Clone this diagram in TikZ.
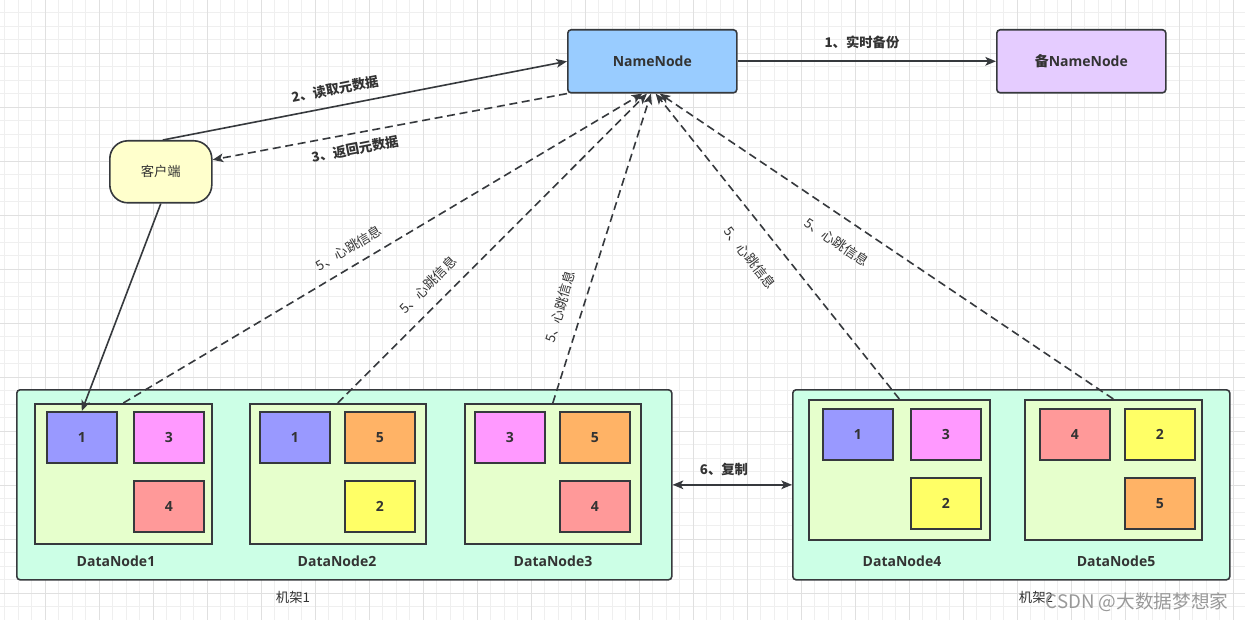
\documentclass[tikz,border=0pt]{standalone}
\usepackage{fontspec}
\setmainfont{Open Sans}
\newfontfamily\cjk{Noto Sans CJK SC}
\usetikzlibrary{arrows.meta}
\definecolor{ln}{HTML}{36393D}
\definecolor{tx}{HTML}{333333}
\definecolor{nnfill}{HTML}{99CCFF}
\definecolor{sbfill}{HTML}{E5CCFF}
\definecolor{clfill}{HTML}{FFFFCC}
\definecolor{rkfill}{HTML}{CCFFE6}
\definecolor{dnfill}{HTML}{E6FFCC}
\definecolor{cA}{HTML}{9999FF}
\definecolor{cB}{HTML}{FFFF66}
\definecolor{cC}{HTML}{FF99FF}
\definecolor{cD}{HTML}{FF9999}
\definecolor{cE}{HTML}{FFB366}
\definecolor{gridminor}{HTML}{EFEFEF}
\definecolor{gridmajor}{HTML}{E0E0E0}
\newcommand\fsA{\fontsize{10.5pt}{12pt}\selectfont}
\newcommand\fsB{\fontsize{10pt}{12pt}\selectfont}
\begin{document}
\begin{tikzpicture}[x=0.75pt,y=-0.75pt,
  every node/.style={text=tx},
  shapebox/.style={draw=ln, line width=1.2pt, inner sep=0pt, anchor=north west},
  rackbox/.style={shapebox, fill=rkfill, rounded corners=2.5pt, minimum height=142.5pt},
  dnbox/.style={shapebox, fill=dnfill, minimum height=105pt},
  blk/.style={shapebox, minimum width=52.5pt, minimum height=38.25pt, font=\fsA\bfseries},
  solidarrow/.style={draw=ln, line width=1.2pt, -{Stealth[length=8pt,width=6.5pt,inset=2pt]}},
  dasharrow/.style={solidarrow, dash pattern=on 6pt off 3.5pt},
  lbl/.style={font=\cjk\fsB\bfseries, inner sep=0pt},
  hb/.style={font=\cjk\fsB, inner sep=0pt},
  dnlabel/.style={font=\fsA\bfseries, inner sep=0pt}
]
\useasboundingbox (0,0) rectangle (1245,620);
\fill[white] (0,0) rectangle (1245,620);
% grid
\foreach \k in {0,...,92} \draw[gridminor, line width=0.75pt] (4.5+13.5*\k,0) -- (4.5+13.5*\k,620);
\foreach \k in {0,...,46} \draw[gridminor, line width=0.75pt] (0,-0.7+13.5*\k) -- (1245,-0.7+13.5*\k);
\foreach \k in {0,...,22} \draw[gridmajor, line width=0.75pt] (45+54*\k,0) -- (45+54*\k,620);
\foreach \k in {0,...,10} \draw[gridmajor, line width=0.75pt] (0,53.3+54*\k) -- (1245,53.3+54*\k);

% top nodes
\node[shapebox, fill=nnfill, rounded corners=2.5pt, minimum width=126.75pt, minimum height=47.25pt, font=\fsA\bfseries] (nn) at (567,29) {NameNode};
\node[shapebox, fill=sbfill, rounded corners=2.5pt, minimum width=126.75pt, minimum height=47.25pt, font=\fsA\bfseries] (sb) at (996,29) {{\cjk 备}NameNode};
\node[shapebox, fill=clfill, rounded corners=13.5pt, minimum width=76.5pt, minimum height=46.5pt, font=\cjk\fsB] (cl) at (109,140) {客户端};

% racks
\node[rackbox, minimum width=491.25pt] (rk1) at (16,389) {};
\node[rackbox, minimum width=327.75pt] (rk2) at (792,389) {};

% datanodes
\node[dnbox, minimum width=132.75pt] (dn1) at (34,403) {};
\node[dnbox, minimum width=132pt] (dn2) at (249,403) {};
\node[dnbox, minimum width=132pt] (dn3) at (464,403) {};
\node[dnbox, minimum width=135.75pt] (dn4) at (808,399) {};
\node[dnbox, minimum width=132.75pt] (dn5) at (1024,399) {};

% blocks
\node[blk, fill=cA] (b11) at (46,411) {1};
\node[blk, fill=cC] (b12) at (133,411) {3};
\node[blk, fill=cD] (b13) at (133,480) {4};
\node[blk, fill=cA] (b21) at (259,411) {1};
\node[blk, fill=cE] (b22) at (344,411) {5};
\node[blk, fill=cB] (b23) at (344,480) {2};
\node[blk, fill=cC] (b31) at (474,411) {3};
\node[blk, fill=cE] (b32) at (559,411) {5};
\node[blk, fill=cD] (b33) at (559,480) {4};
\node[blk, fill=cA] (b41) at (822,408) {1};
\node[blk, fill=cC] (b42) at (910,408) {3};
\node[blk, fill=cB] (b43) at (910,477) {2};
\node[blk, fill=cD] (b51) at (1039,408) {4};
\node[blk, fill=cB] (b52) at (1124,408) {2};
\node[blk, fill=cE] (b53) at (1124,477) {5};

% labels
\node[dnlabel] (l1) at (116,561) {DataNode1};
\node[dnlabel] (l2) at (337,561) {DataNode2};
\node[dnlabel] (l3) at (553,561) {DataNode3};
\node[dnlabel] (l4) at (902,561) {DataNode4};
\node[dnlabel] (l5) at (1116,561) {DataNode5};
\node[hb] (r1) at (293,597) {机架1};
\node[hb] (r2) at (1036,597) {机架2};

% connectors
\draw[solidarrow] (nn.east) -- (sb.west);
\node[lbl] (e1) at (862,42) {1、实时备份};
\draw[solidarrow] ([xshift=1.5pt]cl.north) -- (nn.west);
\node[lbl, rotate=11] (e2) at (335,89) {2、读取元数据};
\draw[dasharrow] (nn.south west) -- ([yshift=9pt]cl.east);
\node[lbl, rotate=11] (e3) at (355,149) {3、返回元数据};
\draw[solidarrow] (cl.south) -- (b11.north);

\coordinate (t1) at ([xshift=-7.5pt]nn.south);
\coordinate (t2) at ([xshift=-4pt]nn.south);
\coordinate (t3) at ([xshift=-1pt]nn.south);
\coordinate (t4) at ([xshift=2.5pt]nn.south);
\coordinate (t5) at ([xshift=5.5pt]nn.south);
\draw[dasharrow] (dn1.north) -- (t1);
\draw[dasharrow] (dn2.north) -- (t2);
\draw[dasharrow] (dn3.north) -- (t3);
\draw[dasharrow] (dn4.north) -- (t4);
\draw[dasharrow] (dn5.north) -- (t5);
\node[hb, rotate=31] (h1) at (349,248) {5、心跳信息};
\node[hb, rotate=45] (h2) at (428,285) {5、心跳信息};
\node[hb, rotate=73] (h3) at (560,307) {5、心跳信息};
\node[hb, rotate=-52] (h4) at (750,258) {5、心跳信息};
\node[hb, rotate=-34] (h5) at (837,242) {5、心跳信息};

\draw[solidarrow, {Stealth[length=8pt,width=6.5pt,inset=2pt]}-{Stealth[length=8pt,width=6.5pt,inset=2pt]}] (rk1.east) -- (rk2.west);
\node[lbl] (e6) at (724,469) {6、复制};

% watermark
\node[font=\cjk\fontsize{14pt}{16pt}\selectfont, text=gray!80, inner sep=0pt] (wm) at (1137,602) {CSDN @大数据梦想家};
\end{tikzpicture}
\end{document}
